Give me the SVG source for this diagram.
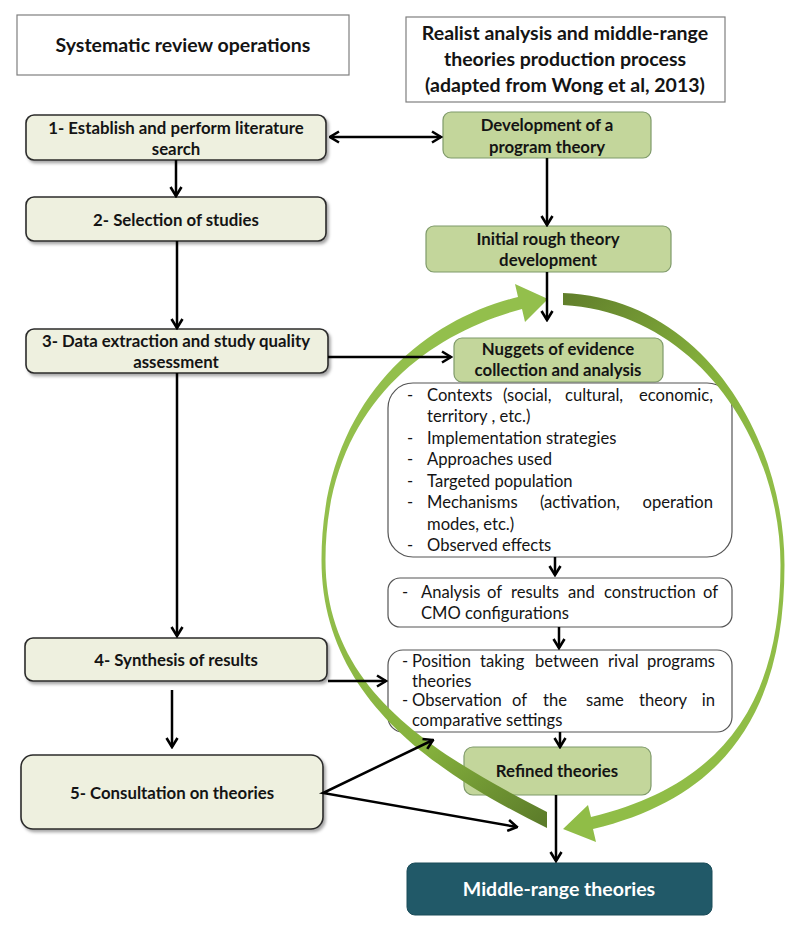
<svg xmlns="http://www.w3.org/2000/svg" width="800" height="931" viewBox="0 0 800 931">
<style>
.hdr{fill:#fff;stroke:#7f7f7f;stroke-width:1.2}
.sr{fill:#eef0df;stroke:#2b2b2b;stroke-width:1.6}
.gr{fill:#c3d69b;stroke:#7f9a6a;stroke-width:1.2}
.wb{fill:#fff;stroke:#555;stroke-width:1.2}
.mr{fill:#215968;stroke:#1b4c59;stroke-width:1}
text{font-family:Lato,"Liberation Sans",sans-serif;fill:#141414}
.ht{font-size:19.5px;font-weight:bold;text-anchor:middle}
.bt{font-size:16.8px;font-weight:bold;text-anchor:middle}
.lt{font-size:16.6px}
.mt{font-size:19.5px;font-weight:bold;text-anchor:middle;fill:#fff}
.cn{fill:none;stroke:#000;stroke-width:2.5}
</style>
<defs>
<marker id="ah" viewBox="0 0 12 14" refX="10.5" refY="7" markerWidth="12" markerHeight="14" markerUnits="userSpaceOnUse" orient="auto-start-reverse">
<path d="M1.5,1.5 L10.5,7 L1.5,12.5" fill="none" stroke="#000" stroke-width="2.6"/>
</marker>
<filter id="sh" x="-5%" y="-10%" width="115%" height="130%">
<feDropShadow dx="2" dy="2.5" stdDeviation="1.5" flood-color="#000" flood-opacity="0.35"/>
</filter>
<linearGradient id="gl" gradientUnits="userSpaceOnUse" x1="547" y1="820" x2="330" y2="560">
<stop offset="0" stop-color="#5c7c2a"/>
<stop offset="0.4" stop-color="#86b23d"/>
<stop offset="1" stop-color="#93bf4c"/>
</linearGradient>
<linearGradient id="gr" gradientUnits="userSpaceOnUse" x1="563" y1="299" x2="770" y2="470">
<stop offset="0" stop-color="#617f2b"/>
<stop offset="0.6" stop-color="#86b23d"/>
<stop offset="1" stop-color="#90bd47"/>
</linearGradient>
</defs>

<g id="header-systematic">
<rect class="hdr" x="17" y="15" width="332" height="60"/>
<text class="ht" x="183" y="52">Systematic review operations</text>
</g>
<g id="header-realist">
<rect class="hdr" x="406" y="17" width="319" height="85"/>
<text class="ht" x="565" y="40">Realist analysis and middle-range</text>
<text class="ht" x="565" y="66">theories production process</text>
<text class="ht" x="565" y="92">(adapted from Wong et al, 2013)</text>
</g>

<g id="step1">
<rect class="sr" filter="url(#sh)" x="26" y="115" width="300" height="45" rx="8"/>
<text class="bt" x="176" y="134">1- Establish and perform literature</text>
<text class="bt" x="176" y="155">search</text>
</g>
<g id="step2">
<rect class="sr" filter="url(#sh)" x="26" y="197" width="300" height="44" rx="8"/>
<text class="bt" x="176" y="226">2- Selection of studies</text>
</g>
<g id="step3">
<rect class="sr" filter="url(#sh)" x="26" y="329" width="302" height="44" rx="8"/>
<text class="bt" x="176" y="347">3- Data extraction and study quality</text>
<text class="bt" x="176" y="368">assessment</text>
</g>
<g id="step4">
<rect class="sr" filter="url(#sh)" x="25" y="638" width="302" height="43" rx="8"/>
<text class="bt" x="176" y="666">4- Synthesis of results</text>
</g>
<g id="step5">
<rect class="sr" filter="url(#sh)" x="21" y="755" width="302" height="74" rx="12"/>
<text class="bt" x="172" y="799">5- Consultation on theories</text>
</g>

<g id="program-theory">
<rect class="gr" x="443" y="112" width="208" height="46" rx="8"/>
<text class="bt" x="547" y="131">Development of a</text>
<text class="bt" x="547" y="153">program theory</text>
</g>
<g id="initial-theory">
<rect class="gr" x="426" y="226" width="245" height="46" rx="8"/>
<text class="bt" x="548" y="245">Initial rough theory</text>
<text class="bt" x="548" y="266">development</text>
</g>
<g id="nuggets">
<rect class="gr" x="454" y="338" width="209" height="44" rx="8"/>
<text class="bt" x="558" y="355">Nuggets of evidence</text>
<text class="bt" x="558" y="376">collection and analysis</text>
</g>
<g id="evidence-list">
<rect class="wb" x="388" y="383" width="344" height="174" rx="25"/>
<text class="lt" y="401"><tspan x="407">-</tspan><tspan x="427">Contexts</tspan><tspan x="503">(social,</tspan><tspan x="565">cultural,</tspan><tspan x="713" text-anchor="end">economic,</tspan></text>
<text class="lt" x="427" y="422">territory , etc.)</text>
<text class="lt" y="444"><tspan x="407">-</tspan><tspan x="427">Implementation strategies</tspan></text>
<text class="lt" y="465"><tspan x="407">-</tspan><tspan x="427">Approaches used</tspan></text>
<text class="lt" y="487"><tspan x="407">-</tspan><tspan x="427">Targeted population</tspan></text>
<text class="lt" y="508"><tspan x="407">-</tspan><tspan x="427">Mechanisms</tspan><tspan x="540">(activation,</tspan><tspan x="713" text-anchor="end">operation</tspan></text>
<text class="lt" x="427" y="530">modes, etc.)</text>
<text class="lt" y="551"><tspan x="407">-</tspan><tspan x="427">Observed effects</tspan></text>
</g>
<g id="analysis">
<rect class="wb" x="388" y="578" width="344" height="49" rx="12"/>
<text class="lt" y="598"><tspan x="402">-</tspan><tspan x="421">Analysis</tspan><tspan x="487">of</tspan><tspan x="511">results</tspan><tspan x="568">and</tspan><tspan x="604">construction</tspan><tspan x="718" text-anchor="end">of</tspan></text>
<text class="lt" x="421" y="619">CMO configurations</text>
</g>
<g id="position">
<rect class="wb" x="388" y="650" width="344" height="82" rx="15"/>
<text class="lt" y="667"><tspan x="402">-</tspan><tspan x="412">Position</tspan><tspan x="480">taking</tspan><tspan x="535">between</tspan><tspan x="608">rival</tspan><tspan x="715" text-anchor="end">programs</tspan></text>
<text class="lt" x="412" y="687">theories</text>
<text class="lt" y="706"><tspan x="402">-</tspan><tspan x="412">Observation</tspan><tspan x="512">of</tspan><tspan x="543">the</tspan><tspan x="586">same</tspan><tspan x="639">theory</tspan><tspan x="715" text-anchor="end">in</tspan></text>
<text class="lt" x="412" y="726">comparative settings</text>
</g>
<g id="refined">
<rect class="gr" x="464" y="747" width="187" height="48" rx="9"/>
<text class="bt" x="557" y="777">Refined theories</text>
</g>
<g id="middle-range">
<rect class="mr" x="407" y="863" width="305" height="52" rx="8"/>
<text class="mt" x="559" y="896">Middle-range theories</text>
</g>

<g id="cycle-arrows">
<path fill="url(#gl)" d="M547,828 C425,768 321.5,692 321.5,560 C321.5,402 423,320 518,297 L515,284 L548,299 L525,322 L522,309 C427,334 325.5,408 325.5,560 C325.5,688 430,752 547,812 Z"/>
<path fill="url(#gr)" d="M563,293 C703,298 784.5,438 784.5,565 C784.5,703 732,796 593,829 L596,842 L563,829 L588,805 L591,817 C728,784 780.5,697 780.5,565 C780.5,442 697,312 563,305 Z"/>
</g>

<g id="connectors">
<line class="cn" x1="330" y1="137" x2="441" y2="137" marker-start="url(#ah)" marker-end="url(#ah)"/>
<line class="cn" x1="176" y1="160" x2="176" y2="196" marker-end="url(#ah)"/>
<line class="cn" x1="177" y1="241" x2="177" y2="328" marker-end="url(#ah)"/>
<line class="cn" x1="177" y1="373" x2="177" y2="636" marker-end="url(#ah)"/>
<line class="cn" x1="172" y1="690" x2="172" y2="747" marker-end="url(#ah)"/>
<line class="cn" x1="547" y1="158" x2="547" y2="225" marker-end="url(#ah)"/>
<line class="cn" x1="547" y1="272" x2="547" y2="320" marker-end="url(#ah)"/>
<line class="cn" x1="328" y1="357" x2="451" y2="357" marker-end="url(#ah)"/>
<line class="cn" x1="555" y1="557" x2="555" y2="575" marker-end="url(#ah)"/>
<line class="cn" x1="559" y1="627" x2="559" y2="648" marker-end="url(#ah)"/>
<line class="cn" x1="560" y1="732" x2="560" y2="747" marker-end="url(#ah)"/>
<line class="cn" x1="556" y1="795" x2="556" y2="861" marker-end="url(#ah)"/>
<line class="cn" x1="328" y1="681" x2="386" y2="681" marker-end="url(#ah)"/>
<polyline class="cn" points="433,740 323,793 517,827" marker-start="url(#ah)" marker-end="url(#ah)"/>
</g>
</svg>
